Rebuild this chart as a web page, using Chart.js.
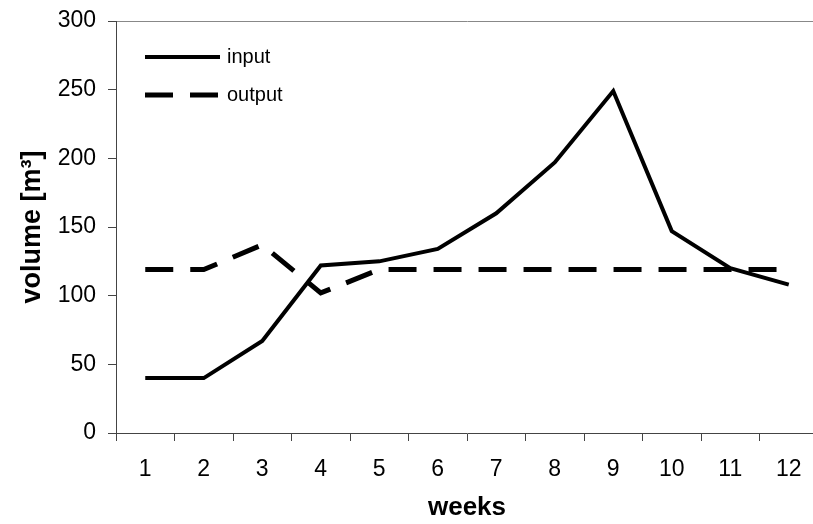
<!DOCTYPE html>
<html>
<head>
<meta charset="utf-8">
<script src="https://cdn.jsdelivr.net/npm/chart.js@4"></script>
<style>
  html, body { margin: 0; padding: 0; background: #fff; overflow: hidden; }
  #wrap { width: 840px; height: 524px; }
</style>
</head>
<body>
<div id="wrap"><canvas id="volumeChart"></canvas></div>
<script>
// weeks on the x axis
const weeks = ['1', '2', '3', '4', '5', '6', '7', '8', '9', '10', '11', '12']
// volumes in m3
const inputVolume = [40, 40, 67, 122, 125, 134, 160, 197, 249, 147, 120, 108]
const outputVolume = [119, 119, 137, 102, 119, 119, 119, 119, 119, 119, 119, 119]
const yTicks = [0, 50, 100, 150, 200, 250, 300]

const FONT = '"Liberation Sans", Arial, sans-serif'

/**
 * Legend drawn inside the plot, top left, one row per dataset.
 */
const innerLegend = {
  id: 'innerLegend',
  afterDraw (chart) {
    const { ctx, chartArea } = chart
    ctx.save()
    chart.data.datasets.forEach((ds, i) => {
      const y = chartArea.top + 36 + i * 38
      const x0 = chartArea.left + 29
      const x1 = x0 + 75
      ctx.beginPath()
      ctx.setLineDash(ds.borderDash || [])
      ctx.lineWidth = ds.borderWidth
      ctx.strokeStyle = ds.borderColor
      ctx.moveTo(x0, y)
      ctx.lineTo(x1, y)
      ctx.stroke()
      ctx.setLineDash([])
      ctx.fillStyle = '#000'
      ctx.font = '20px ' + FONT
      ctx.textBaseline = 'middle'
      ctx.fillText(ds.label, x1 + 7, y)
    })
    ctx.restore()
  }
}

document.addEventListener('DOMContentLoaded', () => {
  const ctx = document.getElementById('volumeChart').getContext('2d')

  window.myChart = new Chart(ctx, {
    type: 'line',
    data: {
      labels: weeks,
      datasets: [{
        label: 'input',
        data: inputVolume,
        borderColor: '#000',
        borderWidth: 4,
        pointRadius: 0,
        tension: 0
      }, {
        label: 'output',
        data: outputVolume,
        borderColor: '#000',
        borderWidth: 5,
        borderDash: [28, 17],
        borderCapStyle: 'butt',
        pointRadius: 0,
        tension: 0
      }]
    },
    options: {
      responsive: true,
      maintainAspectRatio: false,
      animation: false,
      layout: { padding: { left: 0, right: 22, top: 21, bottom: 0 } },
      plugins: {
        legend: { display: false },
        tooltip: { enabled: false }
      },
      scales: {
        x: {
          offset: true,
          afterFit: (scale) => { scale.height = 91 },
          grid: {
            offset: true,
            drawOnChartArea: false,
            tickLength: 8,
            tickColor: '#444'
          },
          border: { color: '#444', width: 1 },
          ticks: {
            color: '#000',
            padding: 15,
            maxRotation: 0,
            font: { family: FONT, size: 23 }
          },
          title: {
            display: true,
            text: 'weeks',
            color: '#000',
            padding: { top: 0, bottom: 1 },
            font: { family: FONT, size: 26, weight: 'bold' }
          }
        },
        y: {
          min: 0,
          max: 300,
          afterFit: (scale) => {
            scale.width = 116
            scale.paddingTop = 0
            scale.paddingBottom = 0
          },
          afterBuildTicks: (scale) => {
            scale.ticks = yTicks.map(v => ({ value: v }))
          },
          grid: {
            color: (c) => (c.tick && c.tick.value === 300 ? '#888' : 'rgba(0,0,0,0)'),
            tickColor: '#444',
            tickLength: 8
          },
          border: { color: '#444', width: 1 },
          ticks: {
            color: '#000',
            padding: 12,
            font: { family: FONT, size: 23, lineHeight: 1 }
          },
          title: {
            display: true,
            text: 'volume [m³]',
            color: '#000',
            padding: { top: 16, bottom: 0 },
            font: { family: FONT, size: 27, weight: 'bold' }
          }
        }
      }
    },
    plugins: [innerLegend]
  })
})
</script>
</body>
</html>
